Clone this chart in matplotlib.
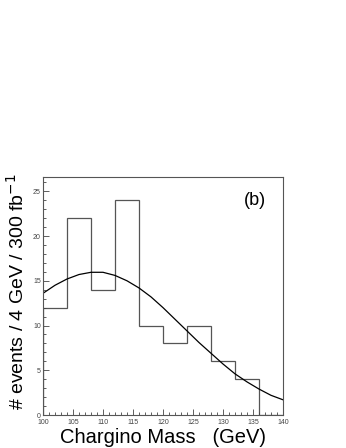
import numpy as np
import matplotlib
matplotlib.use('Agg')
import matplotlib.pyplot as plt
from matplotlib.ticker import MultipleLocator

plt.rcParams['font.family'] = ['Liberation Sans', 'DejaVu Sans']

# histogram: bin edges (GeV) and counts
bin_edges = [100, 104, 108, 112, 116, 120, 124, 128, 132, 136, 140]
counts = [12, 22, 14, 24, 10, 8, 10, 6, 4, 0]

# fitted curve
fit_x = [100, 102, 104, 106, 108, 110, 112, 114, 116, 118, 120,
         122, 124, 126, 128, 130, 132, 134, 136, 138, 140]
fit_y = [13.6, 14.5, 15.2, 15.7, 15.95, 15.95, 15.6, 15.0, 14.2, 13.2, 12.0,
         10.7, 9.4, 8.1, 6.9, 5.7, 4.6, 3.7, 2.9, 2.2, 1.7]

fig = plt.figure(figsize=(3.46, 4.48), dpi=100)
ax = fig.add_axes([43 / 346, 1 - 415 / 448, 240 / 346, 238 / 448])

# step outline, drop to zero at the end of the last filled bin
ax.stairs(counts, bin_edges, color='#555555', lw=0.9)
ax.plot(fit_x, fit_y, color='black', lw=0.9)

ax.set_xlim(100, 140)
ax.set_ylim(0, 26.6)
ax.xaxis.set_major_locator(MultipleLocator(5))
ax.xaxis.set_minor_locator(MultipleLocator(1))
ax.yaxis.set_major_locator(MultipleLocator(5))
ax.yaxis.set_minor_locator(MultipleLocator(1))
ax.tick_params(which='both', direction='in', labelsize=5, colors='#444444', width=0.6)
ax.tick_params(which='major', length=4)
ax.tick_params(which='minor', length=2)
ax.tick_params(axis='x', pad=3)
ax.tick_params(axis='y', pad=1.5)
for s in ax.spines.values():
    s.set_color('#555555')
    s.set_linewidth(0.8)

ax.set_xlabel('Chargino Mass   (GeV)', fontsize=14.5, labelpad=1)
ax.set_ylabel('# events / 4 GeV / 300 fb$^{-1}$', fontsize=14, labelpad=3)
ax.yaxis.set_label_coords(-0.065, 0.52)
ax.text(0.93, 0.9, '(b)', transform=ax.transAxes, fontsize=13, ha='right', va='center')

fig.savefig('out.png', dpi=100)
